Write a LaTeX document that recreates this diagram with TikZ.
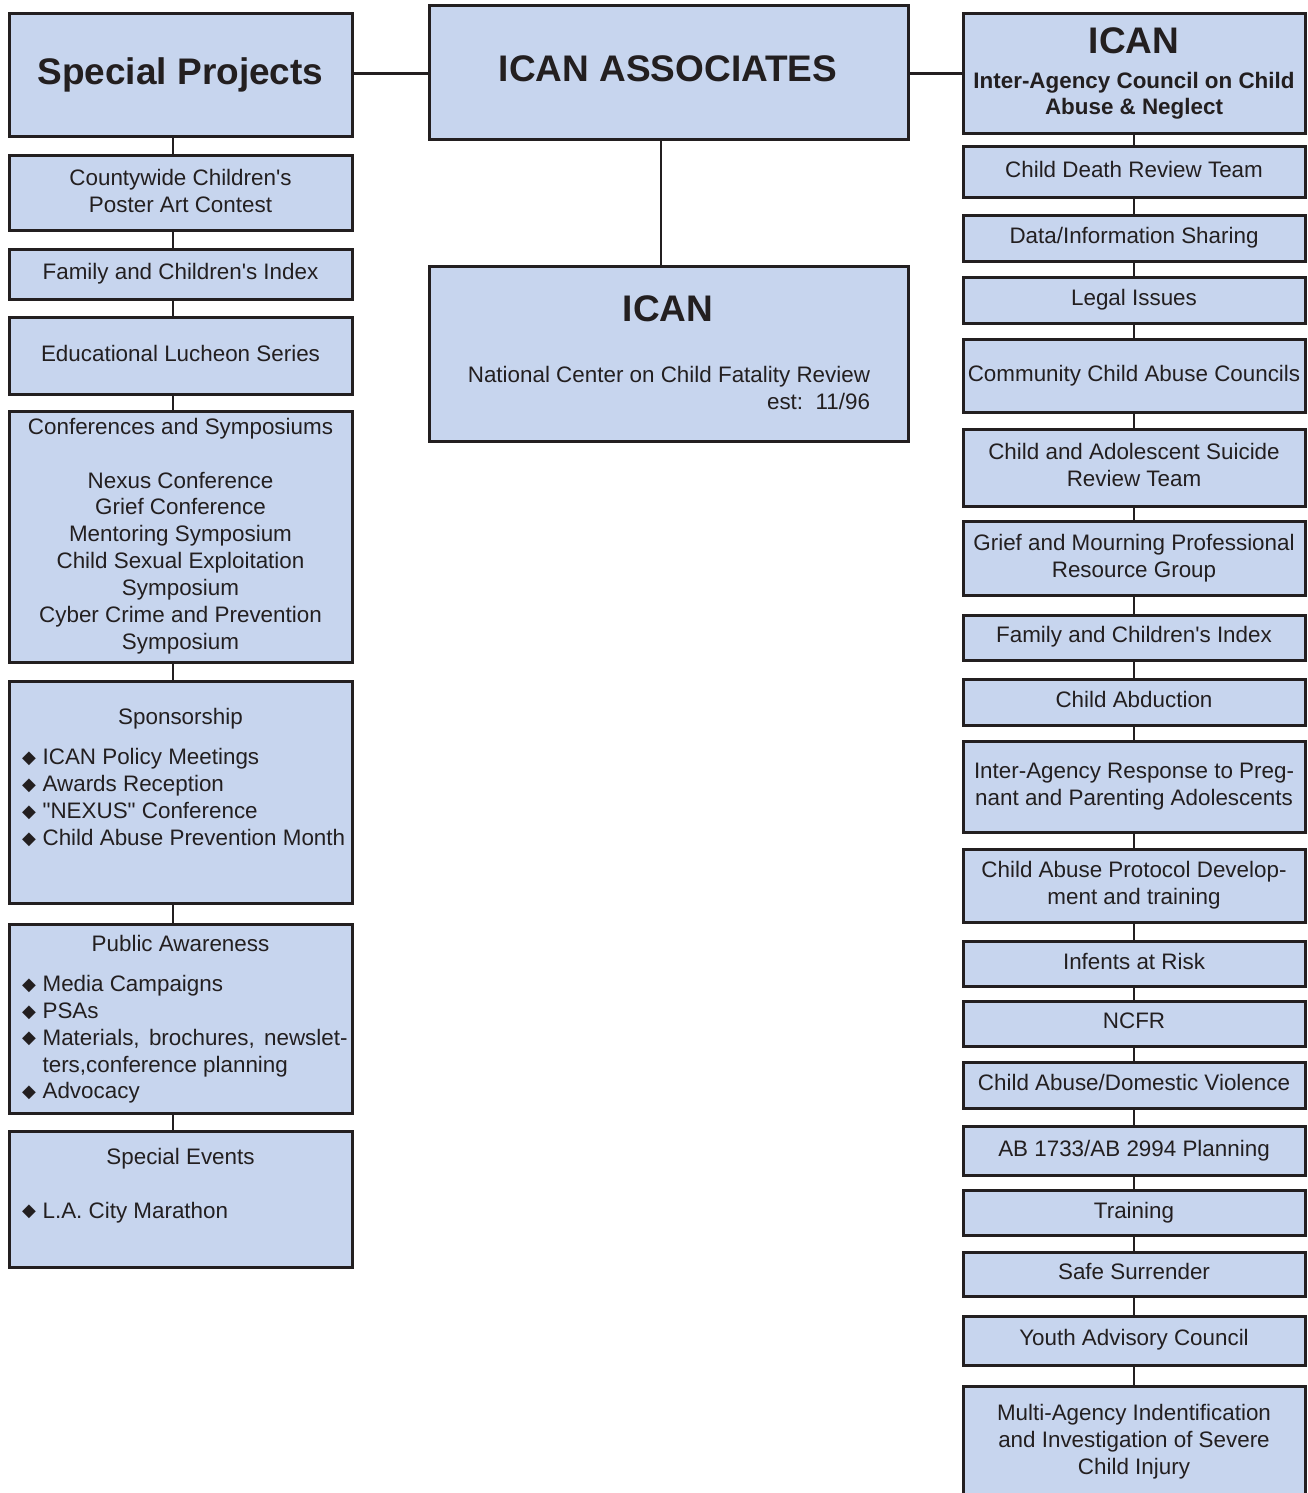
\documentclass[tikz,border=0pt]{standalone}
\usepackage{fontspec}
\setmainfont{Liberation Sans}[Ligatures=TeXOff]
\newfontfamily\dejavu{DejaVu Sans}
\definecolor{boxfill}{HTML}{C7D5EE}
\definecolor{ink}{HTML}{231F20}
\newcommand\bodyfont{\fontsize{11.2}{13.45}\selectfont}
\newcommand\titlefont{\fontsize{18.5}{22}\selectfont\bfseries}
\newcommand\subfont{\fontsize{11.2}{13}\selectfont\bfseries}
\newcommand\tl[1]{\raisebox{-0.5pt}{\begin{tabular}{@{}c@{}}#1\end{tabular}}}
\newcommand\bul{\makebox[10.3pt][l]{\raisebox{0.6pt}{\dejavu\fontsize{9}{9}\selectfont ◆}}}
\tikzset{
  box/.style={draw=ink, fill=boxfill, line width=1.5pt, inner sep=0pt, outer sep=0pt, text=ink, font=\bodyfont},
  conn/.style={draw=ink, line width=1.3pt},
  txt/.style={inner sep=0pt, outer sep=0pt, text=ink, font=\bodyfont},
}
\newcommand\mkbox[6]{\node[box, minimum width={(#4-#2)*0.5pt}, minimum height={(#5-#3)*0.5pt}] (#1) at ({(#2+#4)/2},{(#3+#5)/2}) {#6};}
\begin{document}
\begin{tikzpicture}[x=0.5pt,y=-0.5pt]
\useasboundingbox (0,0) rectangle (1307,1493);
\clip (0,0) rectangle (1307,1493);
\coordinate (cL) at (173,0);
\coordinate (cM) at (661,0);
\coordinate (cR) at (1134,0);
\coordinate (yh) at (0,73.3);

% left column
\mkbox{sp}{9}{13.3}{352}{136.7}{}
\mkbox{lc1}{9}{155.7}{352}{230.7}{\tl{Countywide Children's\\Poster Art Contest}}
\mkbox{lc2}{9}{249.5}{352}{299.5}{\tl{Family and Children's Index}}
\mkbox{lc3}{9}{317.5}{352}{394}{\tl{Educational Lucheon Series}}
\mkbox{lc4}{9}{411}{352}{662}{\tl{Conferences and Symposiums\\ \\Nexus Conference\\Grief Conference\\Mentoring Symposium\\Child Sexual Exploitation\\Symposium\\Cyber Crime and Prevention\\Symposium}}
\mkbox{lc5}{9}{681}{352}{903.5}{}
\mkbox{lc6}{9}{924}{352}{1113.5}{}
\mkbox{lc7}{9}{1131}{352}{1267}{}

% centre
\mkbox{assoc}{429}{6}{908}{139.3}{}
\mkbox{icanc}{429}{266}{908}{441.5}{}

% right column
\mkbox{icanr}{963}{13.3}{1305}{133.3}{}
\mkbox{r1}{963}{146.7}{1305}{197.3}{\tl{Child Death Review Team}}
\mkbox{r2}{963}{215}{1305}{261}{\tl{Data/Information Sharing}}
\mkbox{r3}{963}{277.7}{1305}{323.3}{\tl{Legal Issues}}
\mkbox{r4}{963}{339}{1305}{412.7}{\tl{Community Child Abuse Councils}}
\mkbox{r5}{963}{429}{1305}{506.7}{\tl{Child and Adolescent Suicide\\Review Team}}
\mkbox{r6}{963}{521.7}{1305}{595.7}{\tl{Grief and Mourning Professional\\Resource Group}}
\mkbox{r7}{963}{615}{1305}{660}{\tl{Family and Children's Index}}
\mkbox{r8}{963}{679.3}{1305}{725}{\tl{Child Abduction}}
\mkbox{r9}{963}{741.7}{1305}{832.3}{\tl{Inter-Agency Response to Preg-\\nant and Parenting Adolescents}}
\mkbox{r10}{963}{849}{1305}{922.7}{\tl{Child Abuse Protocol Develop-\\ment and training}}
\mkbox{r11}{963}{941.7}{1305}{986}{\tl{Infents at Risk}}
\mkbox{r12}{963}{1001}{1305}{1046}{\tl{NCFR}}
\mkbox{r13}{963}{1062.3}{1305}{1108.3}{\tl{Child Abuse/Domestic Violence}}
\mkbox{r14}{963}{1126.7}{1305}{1175.7}{\tl{AB 1733/AB 2994 Planning}}
\mkbox{r15}{963}{1190}{1305}{1235.7}{\tl{Training}}
\mkbox{r16}{963}{1252.3}{1305}{1296.7}{\tl{Safe Surrender}}
\mkbox{r17}{963}{1316}{1305}{1365}{\tl{Youth Advisory Council}}
\mkbox{r18}{963}{1386}{1305}{1520}{}

% texts of the irregular boxes
\node[txt, font=\titlefont, anchor=base] (tsp) at (180.5,85) {Special Projects};
\node[txt, font=\titlefont, anchor=base] (tassoc) at (668,82) {ICAN ASSOCIATES};
\node[txt, font=\titlefont, anchor=base] (ticanc) at (668,321.5) {ICAN};
\node[txt, anchor=north east] (sicanc) at (870,363.5) {\begin{tabular}{@{}r@{}}National Center on Child Fatality Review\\est:~~11/96\end{tabular}};
\node[txt, font=\titlefont, anchor=base] (ticanr) at (1134,54) {ICAN};
\node[txt, font=\subfont, anchor=north] (sicanr) at (1134,70.8) {\tl{Inter-Agency Council on Child\\Abuse \& Neglect}};

\node[txt, anchor=base] (tspon) at (180.5,724) {Sponsorship};
\node[txt, anchor=north west] (lspon) at (22,746) {\begin{tabular}{@{}l@{}}\bul ICAN Policy Meetings\\\bul Awards Reception\\\bul "NEXUS" Conference\\\bul Child Abuse Prevention Month\end{tabular}};

\node[txt, anchor=base] (tpub) at (180.5,951.5) {Public Awareness};
\node[txt, anchor=north west] (lpub) at (22,972.5) {\begin{tabular}{@{}l@{}}\bul Media Campaigns\\\bul PSAs\\\bul \makebox[152.5pt][s]{Materials, brochures, newslet-}\\\hspace*{10.3pt}ters,conference planning\\\bul Advocacy\end{tabular}};

\node[txt, anchor=base] (tev) at (180.5,1164) {Special Events};
\node[txt, anchor=base west] (lev) at (22,1218) {\bul L.A. City Marathon};

\node[txt, anchor=north] (tmulti) at (1134,1401.5) {\tl{Multi-Agency Indentification\\and Investigation of Severe\\Child Injury}};

% connectors
\draw[conn] (sp.east |- yh) -- (assoc.west |- yh);
\draw[conn] (assoc.east |- yh) -- (icanr.west |- yh);
\draw[conn] (assoc.south -| cM) -- (icanc.north -| cM);
\foreach \a/\b in {sp/lc1,lc1/lc2,lc2/lc3,lc3/lc4,lc4/lc5,lc5/lc6,lc6/lc7}
  \draw[conn] (\a.south -| cL) -- (\b.north -| cL);
\foreach \a/\b in {icanr/r1,r1/r2,r2/r3,r3/r4,r4/r5,r5/r6,r6/r7,r7/r8,r8/r9,r9/r10,r10/r11,r11/r12,r12/r13,r13/r14,r14/r15,r15/r16,r16/r17,r17/r18}
  \draw[conn] (\a.south -| cR) -- (\b.north -| cR);
\end{tikzpicture}
\end{document}
